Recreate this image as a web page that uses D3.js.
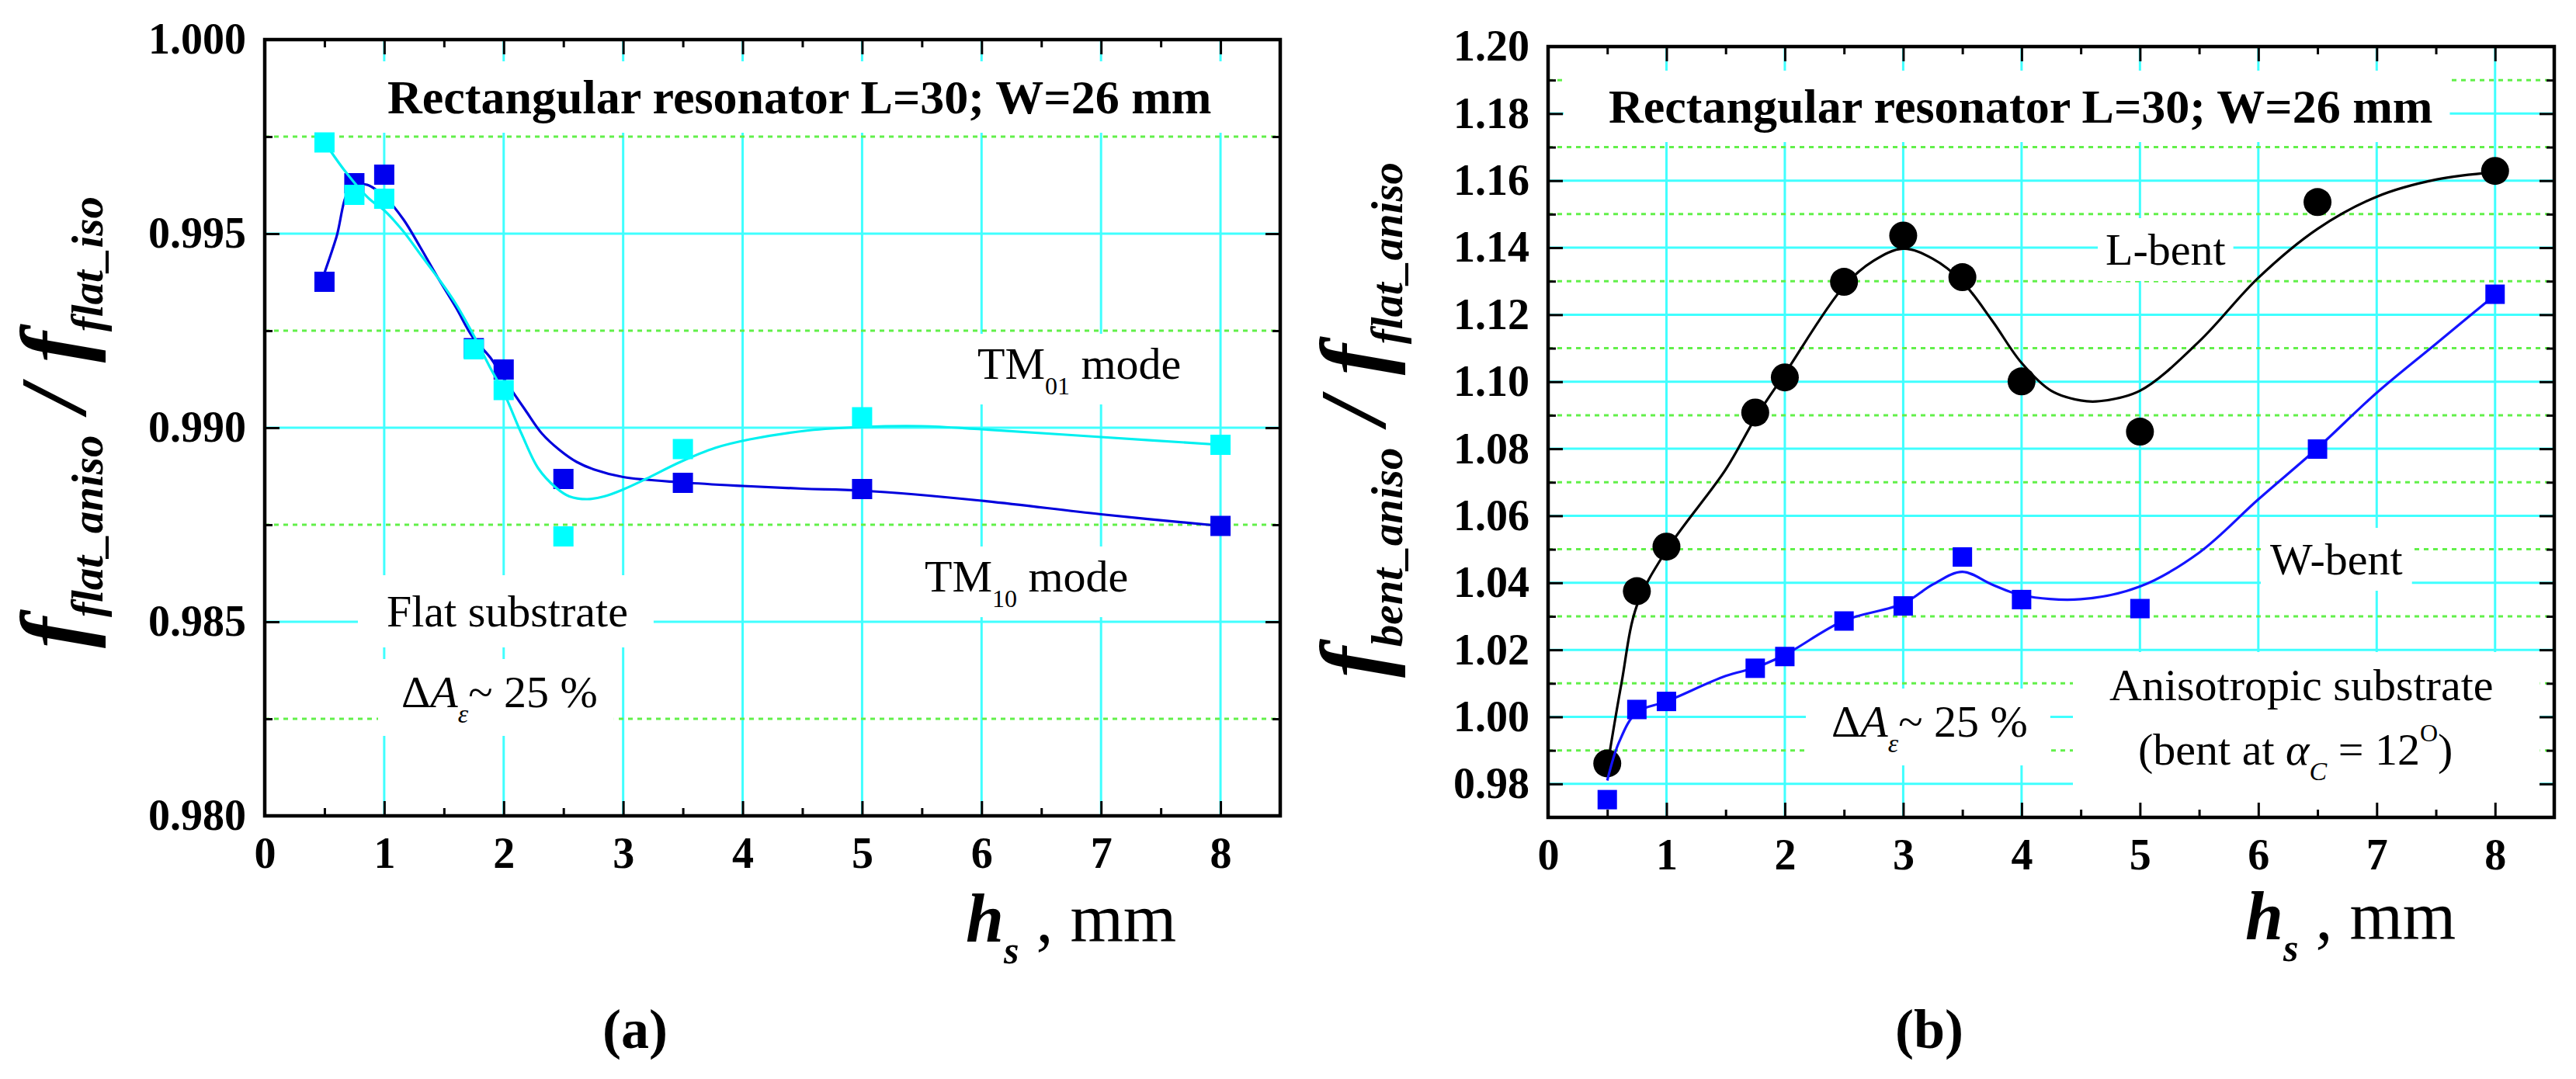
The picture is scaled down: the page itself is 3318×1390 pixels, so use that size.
<!DOCTYPE html>
<html><head><meta charset="utf-8">
<script src="https://cdn.jsdelivr.net/npm/d3@7"></script>
<style>
body{margin:0;background:#fff}
svg{display:block}
text{font-family:"Liberation Serif","Times New Roman",serif;fill:#000}
</style>
</head><body>
<svg id="chart" width="3318" height="1390"></svg>
<script>
// ---------------- DATA ----------------
// Panel (a): flat substrate
const hsA      = [0.5, 0.75, 1, 1.75, 2, 2.5, 3.5, 5, 8];
const tm10Vals = [0.99376, 0.99630, 0.99652, 0.99205, 0.99150, 0.98868, 0.98858, 0.98842, 0.98747];
const tm01Vals = [0.99735, 0.99600, 0.99590, 0.99202, 0.99097, 0.98720, 0.98945, 0.99027, 0.98956];
// fitted curves
const tm10FitX = [0.5, 0.6, 0.71, 0.84, 1.0, 1.16, 1.3, 1.45, 1.6, 1.74, 1.89, 2.0, 2.18, 2.32, 2.47, 2.61, 2.76, 3.0, 3.5, 4.0, 4.5, 5.0, 6.0, 7.0, 8.0];
const tm10FitY = [0.99399, 0.99491, 0.99613, 0.99627, 0.99596, 0.99537, 0.99466, 0.99386, 0.99310, 0.99234, 0.99180, 0.99127, 0.99046, 0.98985, 0.98942, 0.98912, 0.98892, 0.98873, 0.98859, 0.98850, 0.98843, 0.98838, 0.98812, 0.98777, 0.98747];
const tm01FitX = [0.5, 0.67, 0.87, 1.0, 1.16, 1.3, 1.45, 1.6, 1.74, 1.89, 2.0, 2.15, 2.29, 2.44, 2.55, 2.7, 2.84, 3.0, 3.19, 3.48, 3.77, 4.06, 4.55, 5.0, 5.5, 6.0, 7.0, 8.0];
const tm01FitY = [0.99736, 0.99662, 0.99591, 0.99560, 0.99506, 0.99448, 0.99386, 0.99319, 0.99243, 0.99153, 0.99091, 0.98984, 0.98895, 0.98845, 0.98823, 0.98816, 0.98823, 0.98841, 0.98868, 0.98912, 0.98948, 0.98970, 0.98993, 0.99002, 0.99004, 0.98996, 0.98976, 0.98956];

// Panel (b): bent substrate
const hsB       = [0.5, 0.75, 1, 1.75, 2, 2.5, 3, 3.5, 4, 5, 6.5, 8];
const lBentVals = [0.9861, 1.0375, 1.0508, 1.0908, 1.1013, 1.1298, 1.1436, 1.1312, 1.1001, 1.0851, 1.1536, 1.1629];
const wBentVals = [0.9753, 1.0022, 1.0046, 1.0145, 1.0180, 1.0286, 1.0331, 1.0477, 1.0350, 1.0323, 1.0799, 1.1261];
const lFitX = [0.5, 0.62, 0.75, 1, 1.5, 1.75, 2, 2.5, 2.75, 3, 3.25, 3.5, 3.75, 4, 4.25, 4.5, 4.66, 5, 5.5, 6, 6.5, 7, 7.5, 8];
const lFitY = [0.9850, 1.0100, 1.0332, 1.0497, 1.0738, 1.0891, 1.1024, 1.1285, 1.1361, 1.1397, 1.1367, 1.1298, 1.1183, 1.1056, 1.0973, 1.0944, 1.0942, 1.0973, 1.1120, 1.1310, 1.1456, 1.1552, 1.1603, 1.1625];
const wFitX = [0.5, 0.6, 0.75, 1, 1.5, 1.75, 2, 2.5, 3, 3.25, 3.5, 3.75, 4, 4.5, 5, 5.5, 6, 6.5, 7, 7.5, 8];
const wFitY = [0.9810, 0.9925, 1.0014, 1.0046, 1.0122, 1.0147, 1.0185, 1.0287, 1.0338, 1.0395, 1.0433, 1.0395, 1.0363, 1.0351, 1.0389, 1.0490, 1.0649, 1.0802, 1.0967, 1.1113, 1.1259];

// tick values / labels
const xTicks      = [0, 1, 2, 3, 4, 5, 6, 7, 8];
const xMinor      = [0.5, 1.5, 2.5, 3.5, 4.5, 5.5, 6.5, 7.5];
const yTicksA     = [0.980, 0.985, 0.990, 0.995, 1.000];
const yMinorA     = [0.9825, 0.9875, 0.9925, 0.9975];
const yTicksB     = [0.98, 1.00, 1.02, 1.04, 1.06, 1.08, 1.10, 1.12, 1.14, 1.16, 1.18, 1.20];
const yMinorB     = [0.97, 0.99, 1.01, 1.03, 1.05, 1.07, 1.09, 1.11, 1.13, 1.15, 1.17, 1.19];

// ---------------- STYLE ----------------
const GRID_CYAN = "#40ffff", GRID_GREEN = "#62f04a";
const svg = d3.select("#chart");
svg.append("rect").attr("width", 3318).attr("height", 1390).attr("fill", "#fff");

function addText(parent, x, y, parts, opts = {}) {
  const t = parent.append("text").attr("x", x).attr("y", y);
  if (opts.anchor) t.attr("text-anchor", opts.anchor);
  if (opts.transform) t.attr("transform", opts.transform).attr("x", null).attr("y", null);
  parts.forEach(p => {
    t.append("tspan").text(p.t)
      .attr("font-size", p.s)
      .attr("font-style", p.i ? "italic" : "normal")
      .attr("font-weight", p.b ? "bold" : "normal")
      .attr("dy", p.dy || 0);
  });
  return t;
}

function panel(cfg) {
  const g = svg.append("g");
  const gridL = g.append("g"), boxL = g.append("g"), dataL = g.append("g"), axL = g.append("g"), textL = g.append("g");
  const x = d3.scaleLinear().domain(cfg.xDomain).range([cfg.left, cfg.right]);
  const y = d3.scaleLinear().domain(cfg.yDomain).range([cfg.bottom, cfg.top]);

  // grid
  gridL.selectAll(".vg").data(xTicks.slice(1)).join("line")
    .attr("x1", d => x(d)).attr("x2", d => x(d)).attr("y1", cfg.top).attr("y2", cfg.bottom)
    .attr("stroke", GRID_CYAN).attr("stroke-width", 3);
  gridL.selectAll(".hg").data(cfg.hGrid).join("line")
    .attr("x1", cfg.left).attr("x2", cfg.right).attr("y1", d => y(d)).attr("y2", d => y(d))
    .attr("stroke", GRID_CYAN).attr("stroke-width", 3);
  gridL.selectAll(".dg").data(cfg.dGrid).join("line")
    .attr("x1", cfg.left).attr("x2", cfg.right).attr("y1", d => y(d)).attr("y2", d => y(d))
    .attr("stroke", GRID_GREEN).attr("stroke-width", 3).attr("stroke-dasharray", "6 6");

  // series
  const line = d3.line().x(d => x(d[0])).y(d => y(d[1])).curve(d3.curveCatmullRom.alpha(0.5));
  cfg.series.forEach(s => {
    const fit = s.fx.map((v, i) => [v, s.fy[i]]);
    dataL.append("path").attr("d", line(fit)).attr("fill", "none")
      .attr("stroke", s.lineColor).attr("stroke-width", 3.2);
    const pts = s.xs.map((v, i) => [v, s.ys[i]]);
    if (s.shape === "circle") {
      dataL.selectAll(null).data(pts).join("circle")
        .attr("cx", d => x(d[0])).attr("cy", d => y(d[1])).attr("r", s.size / 2).attr("fill", s.color);
    } else {
      dataL.selectAll(null).data(pts).join("rect")
        .attr("x", d => x(d[0]) - s.size / 2).attr("y", d => y(d[1]) - s.size / 2)
        .attr("width", s.size).attr("height", s.size).attr("fill", s.color);
    }
  });

  // axes (ticks inward on all four sides)
  const styleAxis = sel => {
    sel.select(".domain").remove();
    sel.selectAll(".tick line").attr("stroke", "#000").attr("stroke-width", 3);
    sel.selectAll("text").attr("font-size", 56).attr("font-weight", "bold")
      .attr("font-family", '"Liberation Serif","Times New Roman",serif').attr("fill", "#000");
    sel.attr("font-family", null).attr("font-size", null);
  };
  axL.append("g").attr("transform", `translate(0,${cfg.bottom})`)
    .call(d3.axisBottom(x).tickValues(xTicks).tickSize(-19).tickPadding(27).tickFormat(d3.format("d"))).call(styleAxis);
  axL.append("g").attr("transform", `translate(0,${cfg.bottom})`)
    .call(d3.axisBottom(x).tickValues(xMinor).tickSize(-10).tickFormat("")).call(styleAxis);
  axL.append("g").attr("transform", `translate(0,${cfg.top})`)
    .call(d3.axisTop(x).tickValues(xTicks).tickSize(-19).tickFormat("")).call(styleAxis);
  axL.append("g").attr("transform", `translate(0,${cfg.top})`)
    .call(d3.axisTop(x).tickValues(xMinor).tickSize(-10).tickFormat("")).call(styleAxis);
  axL.append("g").attr("transform", `translate(${cfg.left},0)`)
    .call(d3.axisLeft(y).tickValues(cfg.yTicks).tickSize(-19).tickPadding(24).tickFormat(d3.format(cfg.yFmt))).call(styleAxis);
  axL.append("g").attr("transform", `translate(${cfg.left},0)`)
    .call(d3.axisLeft(y).tickValues(cfg.yMinor).tickSize(-10).tickFormat("")).call(styleAxis);
  axL.append("g").attr("transform", `translate(${cfg.right},0)`)
    .call(d3.axisRight(y).tickValues(cfg.yTicks).tickSize(-19).tickFormat("")).call(styleAxis);
  axL.append("g").attr("transform", `translate(${cfg.right},0)`)
    .call(d3.axisRight(y).tickValues(cfg.yMinor).tickSize(-10).tickFormat("")).call(styleAxis);
  axL.append("rect").attr("x", cfg.left).attr("y", cfg.top)
    .attr("width", cfg.right - cfg.left).attr("height", cfg.bottom - cfg.top)
    .attr("fill", "none").attr("stroke", "#000").attr("stroke-width", 4.5);

  // annotations with white background boxes
  cfg.labels.forEach(L => {
    const grp = textL.append("g");
    L.lines.forEach(ln => addText(grp, ln.x, ln.y, ln.parts));
    const bb = grp.node().getBBox();
    const px = L.px ?? 20, py = L.py ?? 8;
    let x0 = bb.x - (L.pl ?? px), x1 = bb.x + bb.width + (L.pr ?? px);
    let y0 = bb.y - py, y1 = L.toBottom ? cfg.bottom : bb.y + bb.height + py;
    boxL.append("rect").attr("x", x0).attr("y", y0).attr("width", x1 - x0).attr("height", y1 - y0).attr("fill", "#fff");
  });

  // axis titles
  addText(textL, 0, 0, cfg.yTitle, { anchor: "middle", transform: `translate(${cfg.yTitleX},${cfg.yTitleY}) rotate(-90)` });
  addText(textL, cfg.xTitleX, cfg.xTitleY, cfg.xTitle);
  addText(textL, cfg.tagX, 1350, [{ t: cfg.tag, s: 72, b: true }], { anchor: "middle" });
}

const TITLE = "Rectangular resonator L=30; W=26 mm";
const xTitleParts = [
  { t: "h", s: 88, i: true, b: true },
  { t: "s", s: 50, i: true, b: true, dy: 28 },
  { t: " , mm", s: 88, dy: -28 }
];
const deltaParts = [
  { t: "\u0394", s: 58 }, { t: "A", s: 58, i: true },
  { t: "\u03B5", s: 34, i: true, dy: 20 }, { t: "~ 25 %", s: 58, dy: -20 }
];

panel({
  left: 341, right: 1649, top: 51, bottom: 1051,
  xDomain: [0, 8.5], yDomain: [0.980, 1.000],
  yTicks: yTicksA, yMinor: yMinorA, yFmt: ".3f",
  hGrid: [0.985, 0.990, 0.995], dGrid: yMinorA,
  series: [
    { xs: hsA, ys: tm10Vals, fx: tm10FitX, fy: tm10FitY, color: "#0000ee", lineColor: "#0000dd", shape: "square", size: 26 },
    { xs: hsA, ys: tm01Vals, fx: tm01FitX, fy: tm01FitY, color: "#00ffff", lineColor: "#00f0f0", shape: "square", size: 26 }
  ],
  labels: [
    { lines: [{ x: 499, y: 146, parts: [{ t: TITLE, s: 62, b: true }] }], pl: 37, pr: 29, py: 12 },
    { lines: [{ x: 1259, y: 488, parts: [{ t: "TM", s: 58 }, { t: "01", s: 32, dy: 20 }, { t: " mode", s: 58, dy: -20 }] }], pl: 16, pr: 8, py: 6 },
    { lines: [{ x: 1191, y: 762, parts: [{ t: "TM", s: 58 }, { t: "10", s: 32, dy: 20 }, { t: " mode", s: 58, dy: -20 }] }], pl: 16, pr: 8, py: 6 },
    { lines: [{ x: 498, y: 807, parts: [{ t: "Flat substrate", s: 58 }] }], pl: 37, pr: 33, py: 14 },
    { lines: [{ x: 517, y: 911, parts: deltaParts }], pl: 30, pr: 21, py: 10 }
  ],
  yTitle: [
    { t: "f", s: 120, i: true, b: true },
    { t: "flat_aniso", s: 57, i: true, b: true, dy: 22 },
    { t: " / ", s: 120, i: true, b: true, dy: -22 },
    { t: "f", s: 120, i: true, b: true },
    { t: "flat_iso", s: 57, i: true, b: true, dy: 22 }
  ],
  yTitleX: 110, yTitleY: 544,
  xTitle: xTitleParts, xTitleX: 1244, xTitleY: 1213,
  tag: "(a)", tagX: 818
});

panel({
  left: 1994, right: 3290, top: 60, bottom: 1053,
  xDomain: [0, 8.5], yDomain: [0.97, 1.20],
  yTicks: yTicksB, yMinor: yMinorB, yFmt: ".2f",
  hGrid: yTicksB.slice(0, -1), dGrid: yMinorB.slice(1),
  series: [
    { xs: hsB, ys: lBentVals, fx: lFitX, fy: lFitY, color: "#000000", lineColor: "#000000", shape: "circle", size: 36 },
    { xs: hsB, ys: wBentVals, fx: wFitX, fy: wFitY, color: "#0000ff", lineColor: "#1414ff", shape: "square", size: 25 }
  ],
  labels: [
    { lines: [{ x: 2072, y: 158, parts: [{ t: TITLE, s: 62, b: true }] }], pl: 58, pr: 22, py: 12 },
    { lines: [{ x: 2712, y: 341, parts: [{ t: "L-bent", s: 58 }] }], px: 10, py: 8 },
    { lines: [{ x: 2924, y: 740, parts: [{ t: "W-bent", s: 58 }] }], px: 12, py: 8 },
    { lines: [
        { x: 2717, y: 902, parts: [{ t: "Anisotropic substrate", s: 58 }] },
        { x: 2754, y: 985, parts: [{ t: "(bent at ", s: 58 }, { t: "\u03B1", s: 58, i: true },
          { t: "C", s: 34, i: true, dy: 20 }, { t: " = 12", s: 58, dy: -20 },
          { t: "O", s: 32, dy: -30 }, { t: ")", s: 58, dy: 30 }] }
      ], pl: 47, pr: 60, py: 10, toBottom: true },
    { lines: [{ x: 2359, y: 949, parts: deltaParts }], pl: 33, pr: 29, py: 10 }
  ],
  yTitle: [
    { t: "f", s: 120, i: true, b: true },
    { t: "bent_aniso", s: 57, i: true, b: true, dy: 22 },
    { t: " / ", s: 120, i: true, b: true, dy: -22 },
    { t: "f", s: 120, i: true, b: true },
    { t: "flat_aniso", s: 57, i: true, b: true, dy: 22 }
  ],
  yTitleX: 1784, yTitleY: 541,
  xTitle: xTitleParts, xTitleX: 2892, xTitleY: 1210,
  tag: "(b)", tagX: 2485
});
</script>
</body></html>
